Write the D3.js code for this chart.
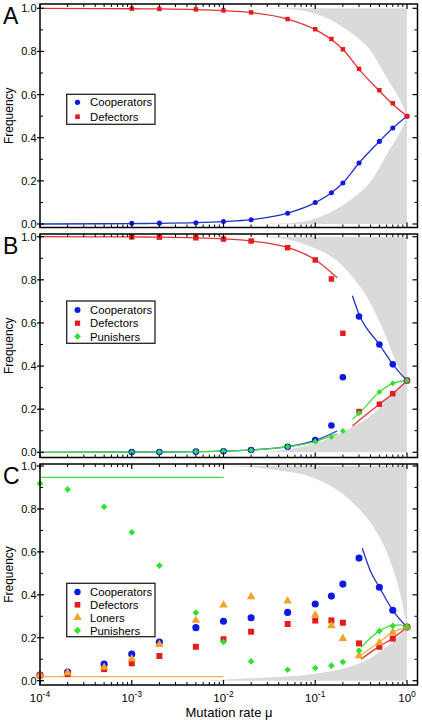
<!DOCTYPE html>
<html><head><meta charset="utf-8">
<script src="https://cdn.jsdelivr.net/npm/d3@7"></script>
<style>body{margin:0;background:#fff}svg{display:block}text{font-family:"Liberation Sans",Arial,sans-serif;fill:#000}</style>
</head><body><svg id="c" width="422" height="720"></svg>
<script>
// ---------- data ----------
const muPts = [0.001,0.002,0.005,0.01,0.02,0.05,0.1,0.15,0.2,0.3,0.5,0.7,1];
const muPtsC = [0.0001,0.0002,0.0005,0.001,0.002,0.005,0.01,0.02,0.05,0.1,0.15,0.2,0.3,0.5,0.7,1];
const xTicks = [1e-4,1e-3,1e-2,1e-1,1];
const xTickExp = ["-4","-3","-2","-1","0"];
const yTicks = [0,0.2,0.4,0.6,0.8,1.0];
const yTickLabels = ["0.0","0.2","0.4","0.6","0.8","1.0"];

// Panel A
const aCoop = [0.003,0.004,0.006,0.012,0.02,0.05,0.1,0.145,0.19,0.283,0.383,0.445,0.5];
const aDef  = [0.998,0.997,0.995,0.99,0.981,0.95,0.903,0.858,0.81,0.719,0.62,0.56,0.5];
const aLineMu = [0.0001,0.001,0.002,0.005,0.01,0.02,0.05,0.1,0.15,0.2,0.3,0.5,0.7,1];
const aLineCoop = [0,0.002,0.003,0.006,0.011,0.02,0.05,0.099,0.145,0.19,0.283,0.383,0.445,0.5];
const aLineDef  = [1,0.998,0.997,0.994,0.989,0.98,0.95,0.901,0.855,0.81,0.717,0.617,0.555,0.5];
const aBoundMu = [0.018,0.04,0.068,0.123,0.25,0.395,0.653,0.84,1];
const aBoundUp = [1.0,0.998,0.992,0.961,0.884,0.807,0.652,0.575,0.5];
const aBoundLo = [0.0,0.002,0.008,0.039,0.116,0.193,0.348,0.425,0.5];

// Panel B
const bCoop = [0.001,0.001,0.003,0.005,0.011,0.026,0.057,0.124,0.348,0.63,0.5,0.408,0.333];
const bDef  = [0.999,0.998,0.995,0.989,0.98,0.949,0.892,0.804,0.552,0.189,0.223,0.272,0.333];
const bPun  = [0.0,0.001,0.003,0.005,0.01,0.026,0.05,0.071,0.099,0.181,0.28,0.32,0.333];
const bLineLoMu = [0.0001,0.001,0.002,0.005,0.01,0.02,0.05,0.1,0.173];
const bLineDefHi = [1.0,0.999,0.998,0.995,0.99,0.98,0.95,0.893,0.81];
const bLineCoopLo = [0,0.0005,0.001,0.003,0.005,0.011,0.026,0.055,0.099];
const bLinePunLo  = [0,0.0005,0.001,0.003,0.005,0.01,0.025,0.05,0.085];
const bLineHiMu = [0.254,0.3,0.5,0.7,1];
const bLineCoopHi = [0.726,0.64,0.5,0.408,0.333];
const bLineDefLo  = [0.122,0.148,0.223,0.272,0.333];
const bLinePunHi  = [0.153,0.18,0.28,0.32,0.333];
const bBoundUpMu = [0.02,0.045,0.088,0.186,0.27,0.364,0.552,0.772,1];
const bBoundUp   = [1.0,0.99,0.954,0.876,0.799,0.722,0.567,0.413,0.333];
const bBoundLoMu = [0.02,0.045,0.1,0.22,0.43,0.65,0.84,1];
const bBoundLo   = [0.0,0.011,0.042,0.104,0.18,0.258,0.30,0.333];

// Panel C
const cCoop = [0.026,0.04,0.077,0.124,0.18,0.247,0.277,0.293,0.318,0.357,0.394,0.45,0.571,0.435,0.328,0.25];
const cDef  = [0.025,0.031,0.054,0.081,0.115,0.158,0.193,0.228,0.264,0.28,0.281,0.27,0.174,0.158,0.196,0.25];
const cLon  = [0.027,0.037,0.062,0.101,0.169,0.281,0.352,0.391,0.371,0.306,0.256,0.197,0.116,0.177,0.225,0.25];
const cPun  = [0.919,0.891,0.81,0.691,0.536,0.317,0.18,0.09,0.051,0.059,0.07,0.087,0.14,0.231,0.256,0.25];
const cFlatMu = [0.0001,0.01];
const cFlatPun = [0.947,0.947];
const cFlatLon = [0.019,0.019];
const cLineCoopMu = [0.326,0.4,0.5,0.7,1];
const cLineCoop = [0.617,0.51,0.435,0.328,0.25];
const cLineMu = [0.315,0.5,0.7,0.85,1];
const cLinePun = [0.155,0.232,0.258,0.26,0.25];
const cLineLon = [0.12,0.18,0.225,0.24,0.25];
const cLineDef = [0.10,0.16,0.197,0.225,0.25];
const cBoundUpMu = [0.008,0.016,0.038,0.088,0.194,0.308,0.43,0.65,0.84,1];
const cBoundUp   = [1.0,0.997,0.981,0.95,0.873,0.795,0.717,0.562,0.407,0.25];
const cBoundLoMu = [0.006,0.0195,0.104,0.24,0.364,0.6,0.804,1];
const cBoundLo   = [0.0,0.011,0.034,0.065,0.096,0.158,0.205,0.25];

// ---------- styling ----------
const COL = {coop:"#0c1ae6", def:"#e61c1c", lon:"#f2a32e", pun:"#2de22d"};
const LCOL = {coop:"#2233c4", def:"#e03434", lon:"#f3b04e", pun:"#3fe03f"};
const zip = (a,b) => a.map((v,i)=>[v,b[i]]);
const svg = d3.select("#c");
const x = d3.scaleLog().domain([1e-4,1]).range([40,407]);
const diamond = d3.symbolDiamond2 || d3.symbolDiamond;
const shapes = {coop:d3.symbolCircle, def:d3.symbolSquare, lon:d3.symbolTriangle, pun:diamond};

function panel(cfg){
  const g = svg.append("g");
  const y = d3.scaleLinear().domain([0,1]).range([cfg.y0, cfg.y1]);
  const xL = 40, xR = 417.5;
  g.append("path").attr("fill","#dadada")
    .attr("d", d3.area().x(d=>x(d[0])).y0(y(1)).y1(d=>y(d[1])).curve(d3.curveMonotoneX)(cfg.bUp));
  g.append("path").attr("fill","#dadada")
    .attr("d", d3.area().x(d=>x(d[0])).y0(y(0)).y1(d=>y(d[1])).curve(d3.curveMonotoneX)(cfg.bLo));
  const line = d3.line().x(d=>x(d[0])).y(d=>y(d[1])).curve(d3.curveMonotoneX);
  cfg.lines.forEach(l=>{
    g.append("path").attr("d", line(l.data)).attr("fill","none")
      .attr("stroke", LCOL[l.k]).attr("stroke-width",1.3);
  });
  cfg.series.forEach(s=>{
    const sym = d3.symbol().type(shapes[s.k]).size(s.size || cfg.msize);
    g.selectAll(null).data(s.data).enter().append("path")
      .attr("d", sym).attr("fill", COL[s.k])
      .attr("transform", d=>`translate(${x(d[0])},${y(d[1])})`);
  });
  g.append("rect").attr("x",xL).attr("y",cfg.top).attr("width",xR-xL).attr("height",cfg.bot-cfg.top)
    .attr("fill","none").attr("stroke","#000").attr("stroke-width",1.5);
  const minors = [];
  for (let e=-4;e<0;e++) for (let m=2;m<=9;m++) minors.push(m*Math.pow(10,e));
  xTicks.forEach(t=>{
    g.append("line").attr("x1",x(t)).attr("x2",x(t)).attr("y1",cfg.top).attr("y2",cfg.top+5).attr("stroke","#000").attr("stroke-width",1.2);
    g.append("line").attr("x1",x(t)).attr("x2",x(t)).attr("y1",cfg.bot).attr("y2",cfg.bot-5).attr("stroke","#000").attr("stroke-width",1.2);
  });
  minors.forEach(t=>{
    g.append("line").attr("x1",x(t)).attr("x2",x(t)).attr("y1",cfg.top).attr("y2",cfg.top+3).attr("stroke","#000").attr("stroke-width",1);
    g.append("line").attr("x1",x(t)).attr("x2",x(t)).attr("y1",cfg.bot).attr("y2",cfg.bot-3).attr("stroke","#000").attr("stroke-width",1);
  });
  yTicks.forEach((t,i)=>{
    g.append("line").attr("x1",xL-3).attr("x2",xL+4).attr("y1",y(t)).attr("y2",y(t)).attr("stroke","#000").attr("stroke-width",1.2);
    g.append("line").attr("x1",xR).attr("x2",xR-5).attr("y1",y(t)).attr("y2",y(t)).attr("stroke","#000").attr("stroke-width",1.2);
    g.append("text").attr("x",xL-3.5).attr("y",y(t)).attr("dy","0.36em").attr("text-anchor","end")
      .attr("font-size",11).text(yTickLabels[i]);
  });
  [0.1,0.3,0.5,0.7,0.9].forEach(t=>{
    g.append("line").attr("x1",xL).attr("x2",xL+3).attr("y1",y(t)).attr("y2",y(t)).attr("stroke","#000").attr("stroke-width",1);
    g.append("line").attr("x1",xR).attr("x2",xR-3).attr("y1",y(t)).attr("y2",y(t)).attr("stroke","#000").attr("stroke-width",1);
  });
  g.append("text").attr("transform",`translate(13,${(cfg.top+cfg.bot)/2}) rotate(-90)`)
    .attr("text-anchor","middle").attr("font-size",12).text("Frequency");
  g.append("text").attr("x",3).attr("y",cfg.top+19.5).attr("font-size",23).text(cfg.letter);
  const L = cfg.legend;
  g.append("rect").attr("x",66.7).attr("y",L.top).attr("width",88.3).attr("height",L.bot-L.top)
    .attr("fill","#fff").attr("stroke","#222").attr("stroke-width",1.3);
  L.items.forEach((it,i)=>{
    const yy = L.first + i*L.step;
    g.append("path").attr("d", d3.symbol().type(shapes[it.k]).size(L.msize)())
      .attr("fill",COL[it.k]).attr("transform",`translate(77.5,${yy})`);
    g.append("text").attr("x",90).attr("y",yy+4.1).attr("font-size",11.3).text(it.name);
  });
  return y;
}

panel({letter:"A", top:4, bot:227.5, y0:224, y1:8.3, msize:20,
  bUp: zip(aBoundMu,aBoundUp), bLo: zip(aBoundMu,aBoundLo),
  lines:[{k:"def",data:zip(aLineMu,aLineDef)},{k:"coop",data:zip(aLineMu,aLineCoop)}],
  series:[{k:"coop",data:zip(muPts,aCoop)},{k:"def",data:zip(muPts,aDef)}],
  legend:{top:94.3,bot:124.3,first:102.3,step:14.4,msize:22,
    items:[{k:"coop",name:"Cooperators"},{k:"def",name:"Defectors"}]}
});

panel({letter:"B", top:234, bot:457.5, y0:452.3, y1:236.7, msize:30,
  bUp: zip(bBoundUpMu,bBoundUp), bLo: zip(bBoundLoMu,bBoundLo),
  lines:[{k:"def",data:zip(bLineLoMu,bLineDefHi)},{k:"coop",data:zip(bLineLoMu,bLineCoopLo)},{k:"pun",data:zip(bLineLoMu,bLinePunLo)},
         {k:"coop",data:zip(bLineHiMu,bLineCoopHi)},{k:"def",data:zip(bLineHiMu,bLineDefLo)},{k:"pun",data:zip(bLineHiMu,bLinePunHi)}],
  series:[{k:"coop",data:zip(muPts,bCoop),size:34},{k:"def",data:zip(muPts,bDef),size:30},{k:"pun",data:zip(muPts,bPun),size:22}],
  legend:{top:301,bot:343.3,first:310,step:13.2,msize:28,
    items:[{k:"coop",name:"Cooperators"},{k:"def",name:"Defectors"},{k:"pun",name:"Punishers"}]}
});

panel({letter:"C", top:464, bot:685, y0:680.7, y1:466, msize:38,
  bUp: zip(cBoundUpMu,cBoundUp), bLo: zip(cBoundLoMu,cBoundLo),
  lines:[{k:"pun",data:zip(cFlatMu,cFlatPun)},{k:"lon",data:zip(cFlatMu,cFlatLon)},
         {k:"coop",data:zip(cLineCoopMu,cLineCoop)},{k:"def",data:zip(cLineMu,cLineDef)},{k:"lon",data:zip(cLineMu,cLineLon)},{k:"pun",data:zip(cLineMu,cLinePun)}],
  series:[{k:"coop",data:zip(muPtsC,cCoop),size:40},{k:"def",data:zip(muPtsC,cDef),size:36},{k:"lon",data:zip(muPtsC,cLon),size:32},{k:"pun",data:zip(muPtsC,cPun),size:28}],
  legend:{top:583.3,bot:636.7,first:592,step:12.8,msize:32,
    items:[{k:"coop",name:"Cooperators"},{k:"def",name:"Defectors"},{k:"lon",name:"Loners"},{k:"pun",name:"Punishers"}]}
});

xTicks.forEach((t,i)=>{
  const tx = svg.append("text").attr("x",x(t)).attr("y",702).attr("text-anchor","middle").attr("font-size",11.5);
  tx.append("tspan").text("10");
  tx.append("tspan").attr("dy",-5).attr("font-size",8.5).text(xTickExp[i]);
});
svg.append("text").attr("x",229).attr("y",716.5).attr("text-anchor","middle").attr("font-size",13).text("Mutation rate μ");
</script></body></html>
